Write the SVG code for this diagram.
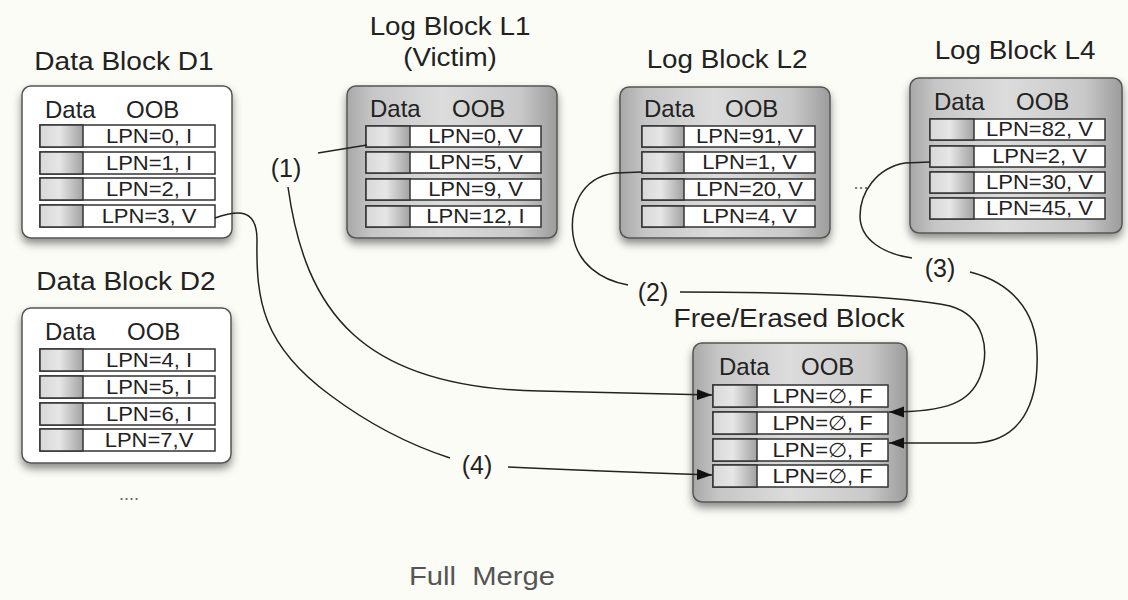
<svg xmlns="http://www.w3.org/2000/svg" width="1128" height="600" viewBox="0 0 1128 600">
<defs>
<style>
.t{font-family:"Liberation Sans",Arial,Helvetica,sans-serif;fill:#222}
.title{font-size:26px;text-anchor:middle}
.hdr{font-size:24px}
.lbl{font-size:20px;text-anchor:middle}
.num{font-size:25px;text-anchor:middle}
.row{fill:#fff;stroke:#333;stroke-width:1.5}
.cell{fill:url(#cellg);stroke:#333;stroke-width:1.5}
.blkW{fill:#fff;stroke:#555;stroke-width:1.5}
.blkG{fill:url(#blkg);stroke:#555;stroke-width:1.5}
.conn{fill:none;stroke:#222;stroke-width:1.5}
.arr{fill:none;stroke:#222;stroke-width:1.5;marker-end:url(#ah)}
.dots{font-family:"Liberation Sans",Arial,sans-serif;font-size:18px;fill:#666;text-anchor:middle}
</style>
<linearGradient id="cellg" x1="0" y1="0" x2="1" y2="0">
<stop offset="0" stop-color="#d8d8d8"/>
<stop offset="0.45" stop-color="#e6e6e6"/>
<stop offset="1" stop-color="#a2a2a2"/>
</linearGradient>
<linearGradient id="blkg" x1="0" y1="0" x2="1" y2="0">
<stop offset="0" stop-color="#a8a8a8"/>
<stop offset="0.12" stop-color="#c6c6c6"/>
<stop offset="0.45" stop-color="#dcdcdc"/>
<stop offset="0.82" stop-color="#c9c9c9"/>
<stop offset="1" stop-color="#9c9c9c"/>
</linearGradient>
<filter id="sh" x="-10%" y="-10%" width="125%" height="130%">
<feDropShadow dx="0" dy="5" stdDeviation="4" flood-color="#000" flood-opacity="0.45"/>
</filter>
<marker id="ah" markerUnits="userSpaceOnUse" markerWidth="16" markerHeight="12" refX="15" refY="5.5" orient="auto">
<path d="M0,0 L15,5.5 L0,11 z" fill="#111"/>
</marker>
</defs>
<rect x="0" y="0" width="1128" height="600" fill="#fcfcf7"/>

<g id="D1">
<text class="t title" transform="translate(124,70) scale(1.08,1)">Data Block D1</text>
<rect class="blkW" x="22" y="86" width="210" height="152" rx="9" filter="url(#sh)"/>
<text class="t hdr" x="45" y="118">Data</text>
<text class="t hdr" x="126" y="118">OOB</text>
<rect class="row" x="40" y="125" width="175" height="22"/><rect class="cell" x="40" y="125" width="43" height="22"/>
<text class="t lbl" transform="translate(149,142.5) scale(1.1,1)">LPN=0, I</text>
<rect class="row" x="40" y="152" width="175" height="22"/><rect class="cell" x="40" y="152" width="43" height="22"/>
<text class="t lbl" transform="translate(149,169.5) scale(1.1,1)">LPN=1, I</text>
<rect class="row" x="40" y="178" width="175" height="22"/><rect class="cell" x="40" y="178" width="43" height="22"/>
<text class="t lbl" transform="translate(149,195.5) scale(1.1,1)">LPN=2, I</text>
<rect class="row" x="40" y="205" width="175" height="22"/><rect class="cell" x="40" y="205" width="43" height="22"/>
<text class="t lbl" transform="translate(149,222.5) scale(1.1,1)">LPN=3, V</text>
</g>

<g id="D2">
<text class="t title" transform="translate(126,290) scale(1.08,1)">Data Block D2</text>
<rect class="blkW" x="22" y="308" width="209" height="155" rx="9" filter="url(#sh)"/>
<text class="t hdr" x="45" y="340">Data</text>
<text class="t hdr" x="127" y="340">OOB</text>
<rect class="row" x="40" y="349" width="175" height="22"/><rect class="cell" x="40" y="349" width="43" height="22"/>
<text class="t lbl" transform="translate(149,366.5) scale(1.1,1)">LPN=4, I</text>
<rect class="row" x="40" y="376" width="175" height="22"/><rect class="cell" x="40" y="376" width="43" height="22"/>
<text class="t lbl" transform="translate(149,393.5) scale(1.1,1)">LPN=5, I</text>
<rect class="row" x="40" y="403" width="175" height="22"/><rect class="cell" x="40" y="403" width="43" height="22"/>
<text class="t lbl" transform="translate(149,420.5) scale(1.1,1)">LPN=6, I</text>
<rect class="row" x="40" y="429" width="175" height="22"/><rect class="cell" x="40" y="429" width="43" height="22"/>
<text class="t lbl" transform="translate(149,446.5) scale(1.1,1)">LPN=7,V</text>
<text class="dots" x="129" y="500">....</text>
</g>

<g id="L1">
<text class="t title" transform="translate(450,35) scale(1.07,1)">Log Block L1</text>
<text class="t title" transform="translate(450,66) scale(1.07,1)">(Victim)</text>
<rect class="blkG" x="347" y="86" width="210" height="152" rx="9" filter="url(#sh)"/>
<text class="t hdr" x="370" y="117">Data</text>
<text class="t hdr" x="452" y="117">OOB</text>
<rect class="row" x="366" y="126" width="175" height="21"/><rect class="cell" x="366" y="126" width="44" height="21"/>
<text class="t lbl" transform="translate(475.5,143) scale(1.1,1)">LPN=0, V</text>
<rect class="row" x="366" y="152" width="175" height="21"/><rect class="cell" x="366" y="152" width="44" height="21"/>
<text class="t lbl" transform="translate(475.5,169) scale(1.1,1)">LPN=5, V</text>
<rect class="row" x="366" y="179" width="175" height="21"/><rect class="cell" x="366" y="179" width="44" height="21"/>
<text class="t lbl" transform="translate(475.5,196) scale(1.1,1)">LPN=9, V</text>
<rect class="row" x="366" y="206" width="175" height="21"/><rect class="cell" x="366" y="206" width="44" height="21"/>
<text class="t lbl" transform="translate(475.5,223) scale(1.1,1)">LPN=12, I</text>
</g>

<g id="L2">
<text class="t title" transform="translate(727,68) scale(1.07,1)">Log Block L2</text>
<rect class="blkG" x="620" y="87" width="210" height="151" rx="9" filter="url(#sh)"/>
<text class="t hdr" x="644" y="117">Data</text>
<text class="t hdr" x="725" y="117">OOB</text>
<rect class="row" x="642" y="126" width="173" height="21"/><rect class="cell" x="642" y="126" width="42" height="21"/>
<text class="t lbl" transform="translate(749.5,143) scale(1.1,1)">LPN=91, V</text>
<rect class="row" x="642" y="152" width="173" height="21"/><rect class="cell" x="642" y="152" width="42" height="21"/>
<text class="t lbl" transform="translate(749.5,169) scale(1.1,1)">LPN=1, V</text>
<rect class="row" x="642" y="179" width="173" height="21"/><rect class="cell" x="642" y="179" width="42" height="21"/>
<text class="t lbl" transform="translate(749.5,196) scale(1.1,1)">LPN=20, V</text>
<rect class="row" x="642" y="206" width="173" height="21"/><rect class="cell" x="642" y="206" width="42" height="21"/>
<text class="t lbl" transform="translate(749.5,223) scale(1.1,1)">LPN=4, V</text>
</g>

<text class="dots" x="861" y="189">...</text>

<g id="L4">
<text class="t title" transform="translate(1015,59) scale(1.07,1)">Log Block L4</text>
<rect class="blkG" x="910" y="78" width="212" height="155" rx="9" filter="url(#sh)"/>
<text class="t hdr" x="934" y="110">Data</text>
<text class="t hdr" x="1016" y="110">OOB</text>
<rect class="row" x="930" y="119" width="175" height="21"/><rect class="cell" x="930" y="119" width="44" height="21"/>
<text class="t lbl" transform="translate(1039.5,136) scale(1.1,1)">LPN=82, V</text>
<rect class="row" x="930" y="146" width="175" height="21"/><rect class="cell" x="930" y="146" width="44" height="21"/>
<text class="t lbl" transform="translate(1039.5,163) scale(1.1,1)">LPN=2, V</text>
<rect class="row" x="930" y="172" width="175" height="21"/><rect class="cell" x="930" y="172" width="44" height="21"/>
<text class="t lbl" transform="translate(1039.5,189) scale(1.1,1)">LPN=30, V</text>
<rect class="row" x="930" y="198" width="175" height="21"/><rect class="cell" x="930" y="198" width="44" height="21"/>
<text class="t lbl" transform="translate(1039.5,215) scale(1.1,1)">LPN=45, V</text>
</g>

<g id="FREE">
<text class="t title" transform="translate(789,327) scale(1.08,1)">Free/Erased Block</text>
<rect class="blkG" x="693" y="343" width="214" height="159" rx="9" filter="url(#sh)"/>
<text class="t hdr" x="719" y="375">Data</text>
<text class="t hdr" x="801" y="375">OOB</text>
<rect class="row" x="713" y="385" width="175" height="22"/><rect class="cell" x="713" y="385" width="44" height="22"/>
<text class="t lbl" transform="translate(822.5,402.5) scale(1.1,1)">LPN=∅, F</text>
<rect class="row" x="713" y="412" width="175" height="22"/><rect class="cell" x="713" y="412" width="44" height="22"/>
<text class="t lbl" transform="translate(822.5,429.5) scale(1.1,1)">LPN=∅, F</text>
<rect class="row" x="713" y="439" width="175" height="22"/><rect class="cell" x="713" y="439" width="44" height="22"/>
<text class="t lbl" transform="translate(822.5,456.5) scale(1.1,1)">LPN=∅, F</text>
<rect class="row" x="713" y="465" width="175" height="22"/><rect class="cell" x="713" y="465" width="44" height="22"/>
<text class="t lbl" transform="translate(822.5,482.5) scale(1.1,1)">LPN=∅, F</text>
</g>

<g id="connectors">
<path class="conn" d="M367,145 L318,153"/>
<path class="arr" d="M288,187 C 305,310 360,388 540,391 L 712,395"/>
<path class="conn" d="M642,172 L 615,173 C 578,178 570,212 573,235 C 577,263 600,280 628,285"/>
<path class="arr" d="M680,292 C 790,292 905,296 950,306 C 985,316 990,350 980,377 C 970,402 948,412 889,412"/>
<path class="conn" d="M930,162 L 905,163 C 876,168 860,193 860,216 C 860,240 884,254 912,258"/>
<path class="arr" d="M970,272 C 1010,282 1036,310 1037,352 C 1039,405 1020,441 975,443 L 889,443"/>
<path class="conn" d="M215,218 C 238,210 257,208 257,240 C 256,300 262,345 330,395 C 370,425 410,445 450,458"/>
<path class="arr" d="M508,467 C 590,471 650,473 712,475"/>
</g>

<g id="labels">
<text class="t num" x="286" y="177">(1)</text>
<text class="t num" x="653" y="301">(2)</text>
<text class="t num" x="940" y="277">(3)</text>
<text class="t num" x="477" y="474">(4)</text>
</g>

<text class="t" xml:space="preserve" style="font-size:25px;fill:#555;text-anchor:middle" transform="translate(482,585) scale(1.17,1)">Full  Merge</text>
</svg>
